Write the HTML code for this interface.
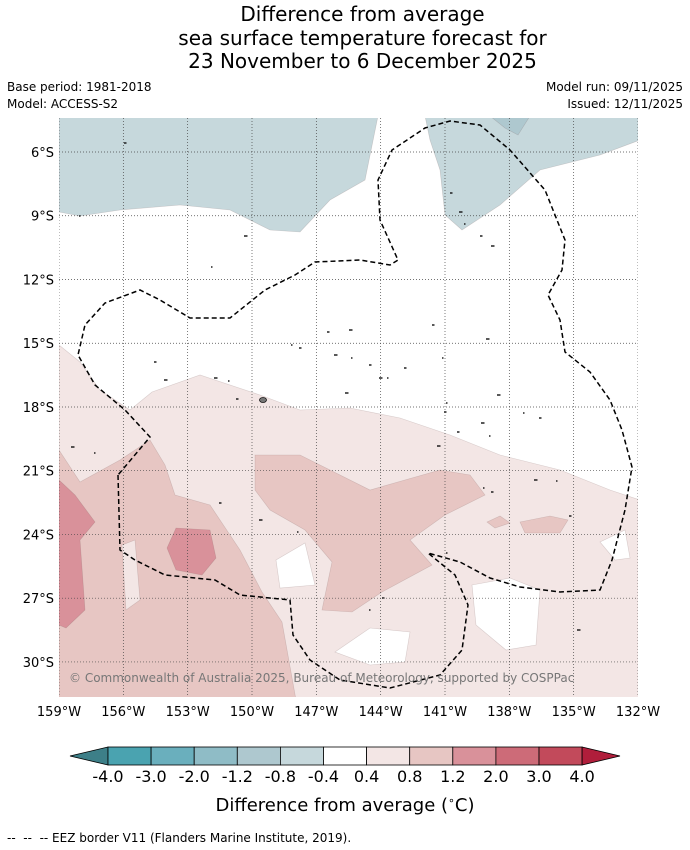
<!DOCTYPE html>
<html><head><meta charset="utf-8">
<style>
body{margin:0;background:#fff;font-family:"DejaVu Sans","Liberation Sans",sans-serif;}
#wrap{position:relative;width:690px;height:850px;overflow:hidden;background:#fff}
.t{position:absolute;white-space:nowrap;color:#000}
</style></head><body>
<div id="wrap">
<div class="t" style="left:0;width:725px;text-align:center;top:3px;font-size:20px;line-height:23.5px">Difference from average<br>sea surface temperature forecast for<br>23 November to 6 December 2025</div>
<div class="t" style="left:7px;top:80px;font-size:12px">Base period: 1981-2018</div>
<div class="t" style="left:7px;top:97px;font-size:12px">Model: ACCESS-S2</div>
<div class="t" style="right:7px;top:80px;font-size:12px">Model run: 09/11/2025</div>
<div class="t" style="right:7px;top:97px;font-size:12px">Issued: 12/11/2025</div>
<svg id="svg" width="690" height="850" style="position:absolute;left:0;top:0"></svg>
<div class="t" style="left:0;width:690px;text-align:center;top:794px;font-size:18px">Difference from average (<sup style="font-size:11px">∘</sup>C)</div>
<div class="t" style="left:7px;top:831px;font-size:12px">--&nbsp; --&nbsp; -- EEZ border V11 (Flanders Marine Institute, 2019).</div>
</div>
<script>
const NS="http://www.w3.org/2000/svg";
const svg=document.getElementById('svg');
const FF='DejaVu Sans, Liberation Sans, sans-serif';
const X0=59,X1=638,Y0=118,Y1=697;
const lonMin=-159,lonMax=-132,latTop=-4.4,latBot=-31.65;
const lonTicks=[-159,-156,-153,-150,-147,-144,-141,-138,-135,-132];
const latTicks=[-6,-9,-12,-15,-18,-21,-24,-27,-30];
const cbLevels=["-4.0","-3.0","-2.0","-1.2","-0.8","-0.4","0.4","0.8","1.2","2.0","3.0","4.0"];
const cbColors=["#4aa3b0","#6aafbd","#8fbcc6","#aec8cf","#c6d8dc","#ffffff","#f3e6e5","#e7c6c3","#d9919a","#cd6b78","#c24a5b"];
function xs(lon){return X0+(lon-lonMin)/(lonMax-lonMin)*(X1-X0);}
function ys(lat){return Y0+(latTop-lat)/(latTop-latBot)*(Y1-Y0);}
function el(t,a){const e=document.createElementNS(NS,t);for(const k in a)e.setAttribute(k,a[k]);svg.appendChild(e);return e;}
function poly(pts,fill,name,extra){const d='M'+pts.map(p=>p.join(',')).join('L')+'Z';const e=el('path',Object.assign({d:d,fill:fill,stroke:'rgba(120,90,90,0.25)','stroke-width':0.6},extra||{}));

return e;}
const clip=el('clipPath',{id:'mc'});const cr=document.createElementNS(NS,'rect');cr.setAttribute('x',X0);cr.setAttribute('y',Y0);cr.setAttribute('width',X1-X0);cr.setAttribute('height',Y1-Y0);clip.appendChild(cr);
const g=el('g',{'clip-path':'url(#mc)'});
function gp(pts,fill,name,extra){const e=poly(pts,fill,name,extra);g.appendChild(e);return e;}
gp([[59,345],[80,362],[100,390],[130,410],[152,392],[200,375],[260,395],[300,410],[350,408],[400,418],[450,435],[500,455],[560,470],[610,490],[640,500],[640,700],[59,700]],"#f3e6e5","anomaly-0.4-0.8-region");
gp([[59,450],[80,482],[120,460],[150,440],[165,465],[175,495],[210,505],[240,550],[262,592],[282,622],[296,700],[59,700]],"#e7c6c3","anomaly-0.8-1.2-west");
gp([[255,455],[300,455],[330,470],[370,490],[440,470],[470,475],[485,495],[445,515],[410,540],[432,565],[382,592],[352,612],[322,610],[332,562],[305,530],[270,510],[255,490]],"#e7c6c3","anomaly-0.8-1.2-central");
gp([[487,522],[500,516],[510,523],[495,528]],"#e7c6c3","anomaly-patch-1");
gp([[520,522],[550,516],[568,520],[560,533],[525,533]],"#e7c6c3","anomaly-patch-2");
gp([[59,480],[75,495],[95,522],[80,540],[85,610],[66,628],[59,625]],"#d9919a","anomaly-1.2-2.0-west");
gp([[176,528],[210,530],[216,558],[202,575],[176,570],[167,548]],"#d9919a","anomaly-1.2-2.0-center");
gp([[122,545],[135,540],[140,600],[126,610]],"#f3e6e5","light-patch");
gp([[276,560],[305,543],[315,585],[280,588]],"#ffffff","neutral-hole-1");
gp([[472,585],[510,578],[540,590],[536,645],[506,650],[476,625]],"#ffffff","neutral-hole-2");
gp([[335,652],[370,628],[410,632],[405,662],[370,665]],"#ffffff","neutral-hole-3");
gp([[600,542],[625,530],[630,558],[615,560]],"#ffffff","neutral-hole-4");
gp([[59,116],[378,116],[365,180],[330,200],[300,232],[270,230],[230,210],[180,205],[120,210],[80,216],[59,212]],"#c6d8dc","cool-region-northwest");
gp([[425,116],[640,116],[640,140],[600,155],[540,170],[500,205],[462,230],[445,215],[440,170],[430,140]],"#c6d8dc","cool-region-northeast");
gp([[490,116],[530,116],[518,135],[505,128]],"#aec8cf","cool-patch");
const islands=[[80,216],[125,143],[245,236],[212,267],[328,332],[350,330],[292,345],[300,348],[335,355],[352,358],[370,365],[380,378],[388,378],[433,325],[487,339],[443,358],[405,368],[215,378],[229,381],[237,399],[346,393],[447,403],[445,412],[482,423],[490,436],[458,432],[498,395],[524,413],[540,418],[72,447],[95,453],[220,503],[260,520],[298,532],[481,236],[460,212],[465,224],[451,193],[492,246],[484,488],[492,492],[535,480],[557,481],[570,516],[578,630],[370,610],[383,598],[438,446],[447,553],[155,362],[165,380]];
islands.forEach((p,i)=>{const e=el('rect',{x:p[0]-1,y:p[1]-0.7,width:1.5+(i%3),height:1.4,fill:'#111'});g.appendChild(e);

});
const rar=el('ellipse',{cx:263,cy:400,rx:3.5,ry:2.5,fill:'#777',stroke:'#111','stroke-width':0.8});g.appendChild(rar);


lonTicks.forEach(l=>{const x=xs(l);const e=el('line',{x1:x,x2:x,y1:Y0,y2:Y1,stroke:'#444','stroke-width':0.7,'stroke-dasharray':'1,2'});g.appendChild(e);


const t=el('text',{x:x,y:716,'font-size':13,'text-anchor':'middle','font-family':FF});t.textContent=Math.abs(l)+'°W';

});
latTicks.forEach(l=>{const y=ys(l);const e=el('line',{x1:X0,x2:X1,y1:y,y2:y,stroke:'#444','stroke-width':0.7,'stroke-dasharray':'1,2'});g.appendChild(e);


const t=el('text',{x:54,y:y+5,'font-size':13,'text-anchor':'end','font-family':FF});t.textContent=Math.abs(l)+'°S';

});
const eez=[[118,475],[120,550],[135,560],[165,575],[215,580],[240,595],[290,600],[293,635],[310,660],[340,680],[390,688],[440,675],[462,650],[468,605],[455,575],[428,553],[460,562],[490,578],[520,587],[560,592],[600,590],[612,560],[625,510],[632,467],[622,430],[610,400],[590,372],[565,352],[560,320],[548,295],[562,270],[565,240],[545,190],[510,150],[480,125],[450,121],[425,128],[392,150],[378,180],[380,220],[398,260],[390,265],[360,260],[315,262],[295,275],[265,290],[230,318],[190,318],[160,300],[140,290],[105,303],[85,325],[78,355],[95,385],[125,410],[150,437]];
const ez=el('path',{d:'M'+eez.map(p=>p.join(',')).join('L')+'Z',fill:'none',stroke:'#000','stroke-width':1.5,'stroke-dasharray':'5,3'});g.appendChild(ez);


const cp=el('text',{x:69,y:682,'font-size':12,fill:'#777','font-family':FF});cp.textContent='© Commonwealth of Australia 2025, Bureau of Meteorology, supported by COSPPac';g.appendChild(cp);


const cbX0=108,cbW=43.1,cbY=747,cbH=18;
const lt=el('path',{d:`M${cbX0},${cbY}L70,${cbY+cbH/2}L${cbX0},${cbY+cbH}Z`,fill:'#3d7f88',stroke:'#000','stroke-width':0.8});


cbColors.forEach((c,i)=>{const r=el('rect',{x:cbX0+i*cbW,y:cbY,width:cbW,height:cbH,fill:c,stroke:'#000','stroke-width':0.8});

});
const xe=cbX0+cbColors.length*cbW;
const rt=el('path',{d:`M${xe},${cbY}L620,${cbY+cbH/2}L${xe},${cbY+cbH}Z`,fill:'#b01e3b',stroke:'#000','stroke-width':0.8});


cbLevels.forEach((v,i)=>{const t=el('text',{x:cbX0+i*cbW,y:782,'font-size':16,'text-anchor':'middle','font-family':FF});t.textContent=v;

});
</script>
</body></html>
